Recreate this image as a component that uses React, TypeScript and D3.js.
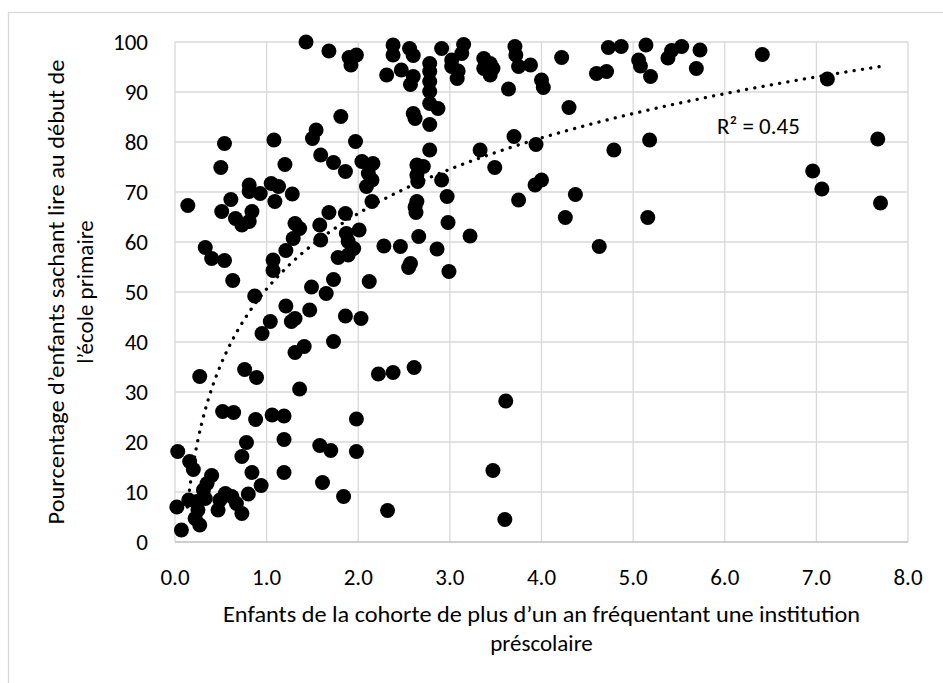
import { FC, useRef, useEffect } from 'react'
import * as d3 from 'd3'

// [fréquentation préscolaire, % sachant lire]
const points: [number, number][] = [
  [1.43, 100], [1.68, 98.2], [1.90, 96.9], [1.98, 97.4], [1.92, 95.4], [1.81, 85.1], [0.54, 79.7], [1.08, 80.4],
  [1.54, 82.4], [1.50, 80.7], [1.97, 80.1], [0.50, 74.9], [1.20, 75.5], [1.59, 77.4], [1.73, 75.9], [1.86, 74.1],
  [2.04, 76.1], [2.16, 75.7], [2.11, 73.7], [2.15, 72.4], [2.09, 71.1], [2.15, 68.1], [0.14, 67.3], [0.61, 68.5],
  [0.51, 66.1], [0.66, 64.7], [0.73, 63.4], [0.81, 71.4], [0.81, 70.1], [0.93, 69.7], [0.84, 66.1], [0.81, 64.1],
  [1.05, 71.7], [1.13, 71.1], [1.09, 68.1], [1.28, 69.6], [1.68, 65.9], [1.86, 65.7], [1.31, 63.7], [1.36, 62.7],
  [1.29, 60.7], [1.58, 63.4], [1.59, 60.4], [1.87, 61.7], [1.89, 60.1], [1.95, 58.7], [2.01, 62.4], [1.78, 56.9],
  [1.89, 57.4], [0.33, 58.9], [0.40, 56.7], [0.54, 56.3], [1.21, 58.3], [1.07, 56.4], [1.07, 54.3], [0.63, 52.3],
  [1.49, 51.0], [1.73, 52.5], [2.12, 52.1],
  [0.87, 49.2], [1.65, 49.7], [1.21, 47.2], [1.47, 46.4], [1.04, 44.1], [1.27, 44.1], [1.31, 44.7], [0.95, 41.7],
  [1.86, 45.2], [2.03, 44.7], [1.41, 39.1], [1.31, 37.9], [1.73, 40.1], [2.22, 33.6], [2.38, 33.9], [2.61, 34.9],
  [0.27, 33.1], [0.76, 34.5], [0.89, 32.9], [1.36, 30.6], [0.52, 26.1], [0.64, 25.9], [0.88, 24.5], [1.06, 25.4],
  [1.19, 25.2], [1.98, 24.6], [0.78, 19.9], [0.73, 17.1], [1.19, 20.5], [1.58, 19.3], [1.70, 18.3], [1.98, 18.1],
  [0.84, 13.9], [1.19, 13.9], [1.61, 11.9], [0.94, 11.3], [1.84, 9.1], [2.32, 6.3],
  [0.03, 18.1], [0.16, 16.1], [0.20, 14.5], [0.40, 13.3], [0.35, 11.7], [0.31, 10.4], [0.33, 8.7], [0.24, 8.1],
  [0.15, 8.4], [0.02, 7.0], [0.22, 4.7], [0.27, 3.4], [0.07, 2.4], [0.25, 6.4], [0.55, 9.7], [0.49, 8.4],
  [0.62, 9.1], [0.47, 6.4], [0.73, 5.7], [0.67, 7.7], [0.80, 9.6],
  [2.38, 99.4], [2.38, 97.4], [2.56, 98.7], [2.60, 97.3], [2.91, 98.7], [3.15, 99.5], [3.13, 97.7], [3.02, 96.4],
  [3.02, 95.1], [3.09, 94.2], [3.08, 92.7], [2.31, 93.4], [2.47, 94.4], [2.60, 93.1], [2.57, 91.5], [2.78, 95.7],
  [2.78, 94.1], [2.78, 92.1], [2.78, 90.1], [2.78, 87.7], [2.87, 86.7], [2.60, 85.7], [2.62, 84.7], [2.78, 83.5],
  [3.37, 96.7], [3.44, 95.7], [3.37, 94.7], [3.44, 93.4], [3.47, 94.7], [3.71, 99.1], [3.72, 97.4], [3.75, 95.1],
  [3.88, 95.4], [3.64, 90.6], [4.00, 92.4], [4.02, 90.9], [4.22, 96.9], [4.30, 86.9], [2.78, 78.4], [2.64, 75.4],
  [2.71, 75.1], [2.64, 73.4], [2.65, 72.1], [2.91, 72.4], [3.33, 78.4], [3.49, 74.9], [3.70, 81.1], [3.94, 79.5],
  [4.00, 72.4], [3.93, 71.4], [2.97, 69.1], [2.64, 68.1], [3.75, 68.4], [4.37, 69.5],
  [4.73, 98.9], [4.87, 99.1], [5.14, 99.4], [4.60, 93.7], [4.71, 94.1], [5.06, 96.4], [5.08, 95.2], [5.19, 93.1],
  [5.18, 80.4], [4.79, 78.4], [5.16, 64.9], [4.63, 59.1], [4.26, 64.9], [2.62, 67.0], [2.63, 65.9], [2.98, 63.9],
  [2.66, 61.1], [3.22, 61.2], [2.86, 58.6], [2.46, 59.1], [2.28, 59.2], [2.57, 55.7], [2.55, 54.9], [2.99, 54.1],
  [3.61, 28.2], [3.47, 14.3], [3.60, 4.5],
  [5.42, 98.3], [5.38, 96.8], [5.53, 99.1], [5.73, 98.4], [5.69, 94.7], [6.41, 97.5], [7.12, 92.6], [7.67, 80.6],
  [6.96, 74.2], [7.06, 70.6], [7.70, 67.8],
]

const xTicks = [0, 1, 2, 3, 4, 5, 6, 7, 8]
const yTicks = [0, 10, 20, 30, 40, 50, 60, 70, 80, 90, 100]

// logarithmic trendline: y = a ln(x) + b
const trendA = 21.8
const trendB = 50.6
const r2Label = 'R² = 0.45'

const xTitle = ['Enfants de la cohorte de plus d’un an fréquentant une institution', 'préscolaire']
const yTitle = ['Pourcentage d’enfants sachant lire au début de', 'l’école primaire']

const FONT = "Carlito, Calibri, Lato, sans-serif"

const App: FC = () => {
  const svgRef = useRef<SVGSVGElement>(null)

  useEffect(() => {
    if (!svgRef.current) return
    const svg = d3.select(svgRef.current)
    svg.selectAll('*').remove()

    const width = 943
    const height = 683
    const left = 175, right = 908, top = 42, bottom = 542

    const x = d3.scaleLinear().domain([0, 8]).range([left, right])
    const y = d3.scaleLinear().domain([0, 100]).range([bottom, top])

    svg.append('rect').attr('width', width).attr('height', height).attr('fill', '#fff')

    // chart frame
    svg.append('rect')
      .attr('x', 8.5).attr('y', 12.5)
      .attr('width', 960).attr('height', 700)
      .attr('fill', 'none').attr('stroke', '#d9d9d9').attr('stroke-width', 1.3)

    const grid = svg.append('g').attr('stroke', '#d9d9d9').attr('stroke-width', 1.3)
    grid.selectAll('line.h').data(yTicks.slice(1)).join('line')
      .attr('x1', left).attr('x2', right)
      .attr('y1', d => y(d)).attr('y2', d => y(d))
    grid.selectAll('line.v').data(xTicks).join('line')
      .attr('x1', d => x(d)).attr('x2', d => x(d))
      .attr('y1', top).attr('y2', bottom)

    svg.append('line')
      .attr('x1', left).attr('x2', right)
      .attr('y1', bottom).attr('y2', bottom)
      .attr('stroke', '#bfbfbf').attr('stroke-width', 1.5)

    svg.append('g').selectAll('text').data(yTicks).join('text')
      .attr('x', 148).attr('y', d => y(d))
      .attr('dy', '0.36em')
      .attr('text-anchor', 'end')
      .attr('font-family', FONT).attr('font-size', 23).attr('fill', '#000')
      .text(d => d3.format('d')(d))

    svg.append('g').selectAll('text').data(xTicks).join('text')
      .attr('x', d => x(d)).attr('y', 585)
      .attr('text-anchor', 'middle')
      .attr('font-family', FONT).attr('font-size', 23).attr('fill', '#000')
      .text(d => d3.format('.1f')(d))

    // trendline
    const xMin = d3.min(points, d => d[0]) as number
    const xMax = d3.max(points, d => d[0]) as number
    const samples = d3.range(0, 201).map(i => xMin + (xMax - xMin) * i / 200)
      .map(v => [v, trendA * Math.log(v) + trendB] as [number, number])
      .filter(d => d[1] >= 0)
    const line = d3.line<[number, number]>().x(d => x(d[0])).y(d => y(d[1])).curve(d3.curveMonotoneX)
    svg.append('path')
      .attr('d', line(samples) as string)
      .attr('fill', 'none').attr('stroke', '#000')
      .attr('stroke-width', 3.3).attr('stroke-linecap', 'round')
      .attr('stroke-dasharray', '0.1 8.3')

    svg.append('g').selectAll('circle').data(points).join('circle')
      .attr('cx', d => x(d[0])).attr('cy', d => y(d[1]))
      .attr('r', 7.5).attr('fill', '#000')

    svg.append('text')
      .attr('x', 717).attr('y', 134)
      .attr('font-family', FONT).attr('font-size', 23).attr('fill', '#000')
      .text(r2Label)

    // axis titles
    const xt = svg.append('g').attr('font-family', FONT).attr('font-size', 23).attr('fill', '#000')
      .attr('text-anchor', 'middle')
    xt.append('text').attr('x', (left + right) / 2).attr('y', 622)
      .attr('textLength', 637).attr('lengthAdjust', 'spacingAndGlyphs').text(xTitle[0])
    xt.append('text').attr('x', (left + right) / 2).attr('y', 651).text(xTitle[1])

    const yt = svg.append('g').attr('font-family', FONT).attr('font-size', 23).attr('fill', '#000')
      .attr('text-anchor', 'middle')
    yt.append('text').attr('transform', `translate(64, ${(top + bottom) / 2}) rotate(-90)`)
      .attr('textLength', 465).attr('lengthAdjust', 'spacingAndGlyphs').text(yTitle[0])
    yt.append('text').attr('transform', `translate(93, ${(top + bottom) / 2}) rotate(-90)`).text(yTitle[1])
  }, [])

  return (
    <div style={{ position: 'absolute', left: 0, top: 0 }}>
      <svg ref={svgRef} width={943} height={683} style={{ display: 'block' }} />
    </div>
  )
}

export default App
